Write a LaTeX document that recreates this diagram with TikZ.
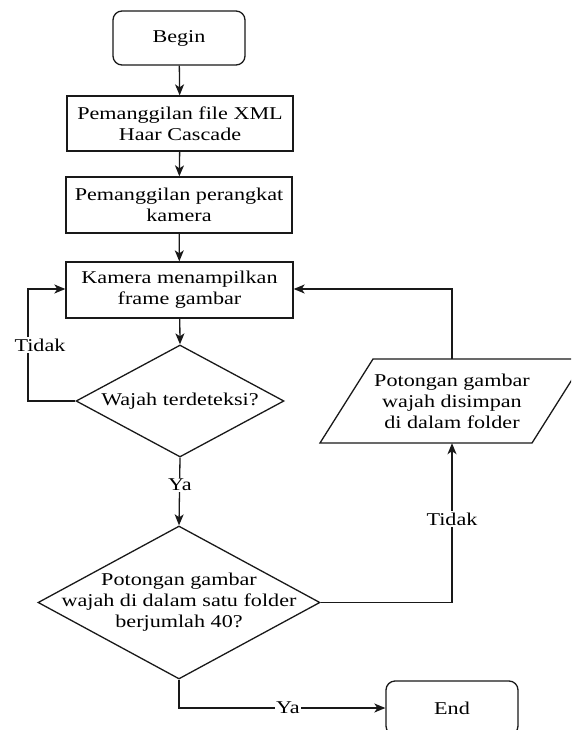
\documentclass[tikz,border=0pt]{standalone}
\usepackage{fontspec}
\setmainfont{Liberation Serif}[FakeStretch=1.23]
\usetikzlibrary{arrows.meta,shapes.geometric}
\begin{document}
\begin{tikzpicture}[x=1pt,y=-1pt,
  every node/.style={font=\fontsize{18}{21}\selectfont, align=center, inner sep=0pt, text=black},
  ln/.style={line width=1.3pt, draw=black!90},
  arr/.style={ln, -{Stealth[length=11pt,width=9pt,inset=3pt]}},
  rbox/.style={ln, draw, rounded corners=9pt},
  pbox/.style={ln, draw},
  dia/.style={ln, draw, diamond},
  lbl/.style={fill=white, inner sep=1.5pt}]
\useasboundingbox (0,0) rectangle (571,730);
\clip (0,0) rectangle (571,730);

\node[rbox, minimum width=132, minimum height=54] (begin) at (179,38) {Begin};
\node[pbox, minimum width=226, minimum height=55] (b2) at (180,123.5) {Pemanggilan file XML\\Haar Cascade};
\node[pbox, minimum width=226, minimum height=56] (b3) at (179,205) {Pemanggilan perangkat\\kamera};
\node[pbox, minimum width=227, minimum height=56] (b4) at (179.5,290) {Kamera menampilkan\\frame gambar};
\node[dia, minimum width=208, minimum height=112] (d1) at (180,401) {};
\node at (d1) {Wajah terdeteksi?};
\node[dia, minimum width=282, minimum height=153] (d2) at (179,602.5) {};
\node at (d2) {Potongan gambar\\wajah di dalam satu folder\\berjumlah 40?};
\node[minimum width=212, minimum height=84] (para) at (452,401) {Potongan gambar\\wajah disimpan\\di dalam folder};
\draw[ln] (320,443) -- (532,443) -- (585,359) -- (373,359) -- cycle;
\node[rbox, minimum width=132, minimum height=54] (end) at (452,708) {End};

\coordinate (lt) at (28,401);
\coordinate (lt2) at (28,289);
\coordinate (rt) at (452,289);
\coordinate (dr) at (452,602.5);
\coordinate (db) at (179,708);

\draw[arr] (begin) -- (b2);
\draw[arr] (b2) -- (b3);
\draw[arr] (b3) -- (b4);
\draw[arr] (b4) -- (d1.north);
\draw[arr] (d1.west) -- (lt) -- (lt2) -- (b4.west |- lt2);
\node[lbl] at (40,345) {Tidak};
\draw[arr] (d1.south) -- (d2.north);
\node[lbl] at (180,485) {Ya};
\draw[arr] (d2.east) -- (dr) -- (para.south);
\node[lbl] at (452,519) {Tidak};
\draw[arr] (para.north) -- (rt) -- (b4.east |- rt);
\draw[arr] (d2.south) -- (db) -- (end.west);
\node[lbl] at (288,708) {Ya};
\end{tikzpicture}
\end{document}
